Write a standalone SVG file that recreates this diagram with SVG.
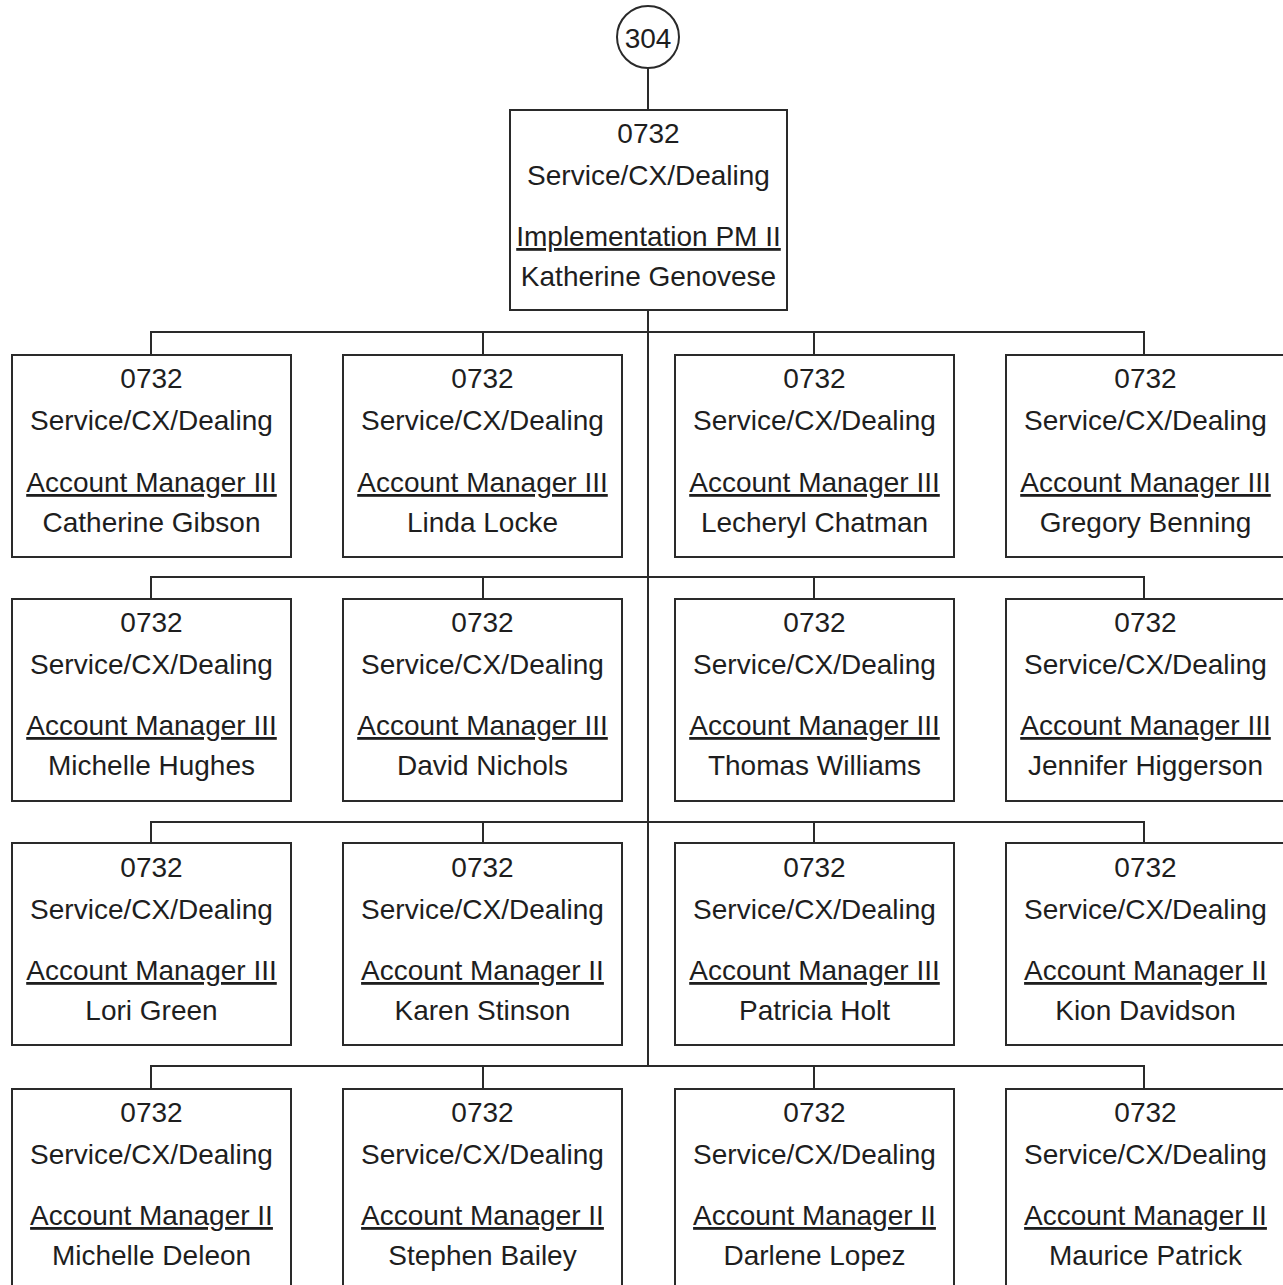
<svg xmlns="http://www.w3.org/2000/svg" width="1283" height="1285" viewBox="0 0 1283 1285">
<style>
.box{fill:#fff;stroke:#2a2a2a;stroke-width:2}
.ln{fill:none;stroke:#2a2a2a;stroke-width:2}
text{font-family:"Liberation Sans",Arial,sans-serif;font-size:28px;fill:#1e1e1e;text-anchor:middle}
.u{text-decoration:underline}
</style>
<rect width="1283" height="1285" fill="#fff"/>
<g id="connectors">
<path class="ln" d="M648 68V110"/>
<path class="ln" d="M648 310V1066"/>
<path class="ln" d="M151 355V332H1144V355M483 332V355M814 332V355"/>
<path class="ln" d="M151 599V577H1144V599M483 577V599M814 577V599"/>
<path class="ln" d="M151 843V822H1144V843M483 822V843M814 822V843"/>
<path class="ln" d="M151 1089V1066H1144V1089M483 1066V1089M814 1066V1089"/>
</g>
<g id="n304"><circle cx="648" cy="37" r="31" class="box"/><text x="648" y="48">304</text></g>
<g id="top"><rect class="box" x="510" y="110" width="277" height="200"/><text x="648.5" y="143">0732</text><text x="648.5" y="185">Service/CX/Dealing</text><text class="u" x="648.5" y="246">Implementation PM II</text><text x="648.5" y="286">Katherine Genovese</text></g>
<g id="r1c1"><rect class="box" x="12" y="355" width="279" height="202"/><text x="151.5" y="388">0732</text><text x="151.5" y="430">Service/CX/Dealing</text><text class="u" x="151.5" y="492">Account Manager III</text><text x="151.5" y="532">Catherine Gibson</text></g>
<g id="r1c2"><rect class="box" x="343" y="355" width="279" height="202"/><text x="482.5" y="388">0732</text><text x="482.5" y="430">Service/CX/Dealing</text><text class="u" x="482.5" y="492">Account Manager III</text><text x="482.5" y="532">Linda Locke</text></g>
<g id="r1c3"><rect class="box" x="675" y="355" width="279" height="202"/><text x="814.5" y="388">0732</text><text x="814.5" y="430">Service/CX/Dealing</text><text class="u" x="814.5" y="492">Account Manager III</text><text x="814.5" y="532">Lecheryl Chatman</text></g>
<g id="r1c4"><rect class="box" x="1006" y="355" width="279" height="202"/><text x="1145.5" y="388">0732</text><text x="1145.5" y="430">Service/CX/Dealing</text><text class="u" x="1145.5" y="492">Account Manager III</text><text x="1145.5" y="532">Gregory Benning</text></g>
<g id="r2c1"><rect class="box" x="12" y="599" width="279" height="202"/><text x="151.5" y="632">0732</text><text x="151.5" y="674">Service/CX/Dealing</text><text class="u" x="151.5" y="735">Account Manager III</text><text x="151.5" y="775">Michelle Hughes</text></g>
<g id="r2c2"><rect class="box" x="343" y="599" width="279" height="202"/><text x="482.5" y="632">0732</text><text x="482.5" y="674">Service/CX/Dealing</text><text class="u" x="482.5" y="735">Account Manager III</text><text x="482.5" y="775">David Nichols</text></g>
<g id="r2c3"><rect class="box" x="675" y="599" width="279" height="202"/><text x="814.5" y="632">0732</text><text x="814.5" y="674">Service/CX/Dealing</text><text class="u" x="814.5" y="735">Account Manager III</text><text x="814.5" y="775">Thomas Williams</text></g>
<g id="r2c4"><rect class="box" x="1006" y="599" width="279" height="202"/><text x="1145.5" y="632">0732</text><text x="1145.5" y="674">Service/CX/Dealing</text><text class="u" x="1145.5" y="735">Account Manager III</text><text x="1145.5" y="775">Jennifer Higgerson</text></g>
<g id="r3c1"><rect class="box" x="12" y="843" width="279" height="202"/><text x="151.5" y="877">0732</text><text x="151.5" y="919">Service/CX/Dealing</text><text class="u" x="151.5" y="980">Account Manager III</text><text x="151.5" y="1020">Lori Green</text></g>
<g id="r3c2"><rect class="box" x="343" y="843" width="279" height="202"/><text x="482.5" y="877">0732</text><text x="482.5" y="919">Service/CX/Dealing</text><text class="u" x="482.5" y="980">Account Manager II</text><text x="482.5" y="1020">Karen Stinson</text></g>
<g id="r3c3"><rect class="box" x="675" y="843" width="279" height="202"/><text x="814.5" y="877">0732</text><text x="814.5" y="919">Service/CX/Dealing</text><text class="u" x="814.5" y="980">Account Manager III</text><text x="814.5" y="1020">Patricia Holt</text></g>
<g id="r3c4"><rect class="box" x="1006" y="843" width="279" height="202"/><text x="1145.5" y="877">0732</text><text x="1145.5" y="919">Service/CX/Dealing</text><text class="u" x="1145.5" y="980">Account Manager II</text><text x="1145.5" y="1020">Kion Davidson</text></g>
<g id="r4c1"><rect class="box" x="12" y="1089" width="279" height="202"/><text x="151.5" y="1122">0732</text><text x="151.5" y="1164">Service/CX/Dealing</text><text class="u" x="151.5" y="1225">Account Manager II</text><text x="151.5" y="1265">Michelle Deleon</text></g>
<g id="r4c2"><rect class="box" x="343" y="1089" width="279" height="202"/><text x="482.5" y="1122">0732</text><text x="482.5" y="1164">Service/CX/Dealing</text><text class="u" x="482.5" y="1225">Account Manager II</text><text x="482.5" y="1265">Stephen Bailey</text></g>
<g id="r4c3"><rect class="box" x="675" y="1089" width="279" height="202"/><text x="814.5" y="1122">0732</text><text x="814.5" y="1164">Service/CX/Dealing</text><text class="u" x="814.5" y="1225">Account Manager II</text><text x="814.5" y="1265">Darlene Lopez</text></g>
<g id="r4c4"><rect class="box" x="1006" y="1089" width="279" height="202"/><text x="1145.5" y="1122">0732</text><text x="1145.5" y="1164">Service/CX/Dealing</text><text class="u" x="1145.5" y="1225">Account Manager II</text><text x="1145.5" y="1265">Maurice Patrick</text></g>
</svg>
